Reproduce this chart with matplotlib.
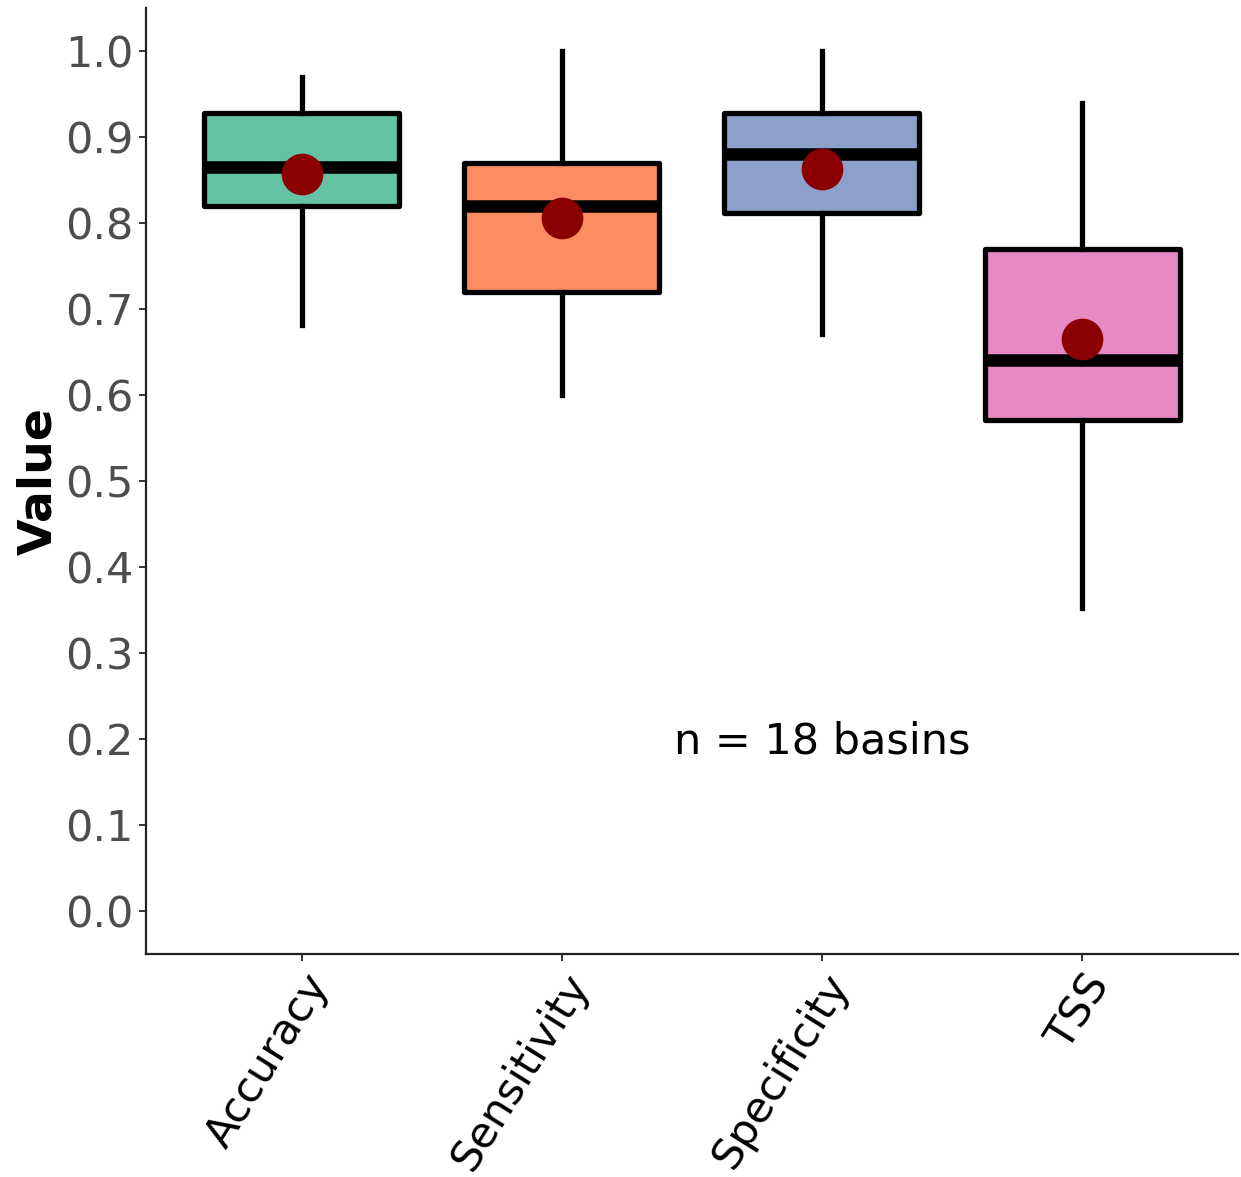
import matplotlib
matplotlib.use("Agg")
import matplotlib.pyplot as plt

# Summary stats (per metric, n = 18 basins)
metrics = ["Accuracy", "Sensitivity", "Specificity", "TSS"]
whisker_low = [0.681, 0.600, 0.671, 0.352]
q1 = [0.819, 0.719, 0.811, 0.571]
medians = [0.865, 0.820, 0.880, 0.640]
q3 = [0.927, 0.870, 0.927, 0.770]
whisker_high = [0.969, 1.000, 1.000, 0.939]
means = [0.857, 0.805, 0.863, 0.665]
colors = ["#66C2A5", "#FC8D62", "#8DA0CB", "#E78AC3"]

fig = plt.figure(figsize=(12.41, 11.77), dpi=100)
ax = fig.add_axes([0.1176, 0.1895, 0.88, 0.804])

stats = []
for i, m in enumerate(metrics):
    stats.append({
        "label": m,
        "whislo": whisker_low[i],
        "q1": q1[i],
        "med": medians[i],
        "q3": q3[i],
        "whishi": whisker_high[i],
        "fliers": [],
    })

positions = list(range(1, len(metrics) + 1))
bp = ax.bxp(stats, positions=positions, widths=0.75, patch_artist=True,
            showcaps=False, showfliers=False,
            boxprops=dict(linewidth=3.8, edgecolor="black"),
            whiskerprops=dict(linewidth=3.8, color="black"),
            medianprops=dict(linewidth=9, color="black", solid_capstyle="butt"))
for patch, c in zip(bp["boxes"], colors):
    patch.set_facecolor(c)
    patch.set_joinstyle("round")

ax.plot(positions, means, "o", color="#8B0000", markersize=29, linestyle="none", zorder=5)

ax.text(3, 0.197, "n = 18 basins", fontsize=31, ha="center", va="center", color="black")

ax.set_xlim(0.4, 4.6)
ax.set_ylim(-0.05, 1.05)
ax.set_yticks([i / 10 for i in range(11)])
ax.set_yticklabels([f"{i / 10:.1f}" for i in range(11)], fontsize=31, color="#4D4D4D")
ax.set_xticks(positions)
ax.set_xticklabels(metrics, fontsize=31, rotation=58, ha="right", va="top",
                   rotation_mode="anchor", color="black")
ax.set_ylabel("Value", fontsize=34, fontweight="bold", labelpad=3)

for side in ["top", "right"]:
    ax.spines[side].set_visible(False)
for side in ["left", "bottom"]:
    ax.spines[side].set_linewidth(1.6)
    ax.spines[side].set_color("#222222")
ax.tick_params(axis="both", length=5, width=1.4, color="#333333", pad=4)

fig.savefig("out.png", dpi=100)
